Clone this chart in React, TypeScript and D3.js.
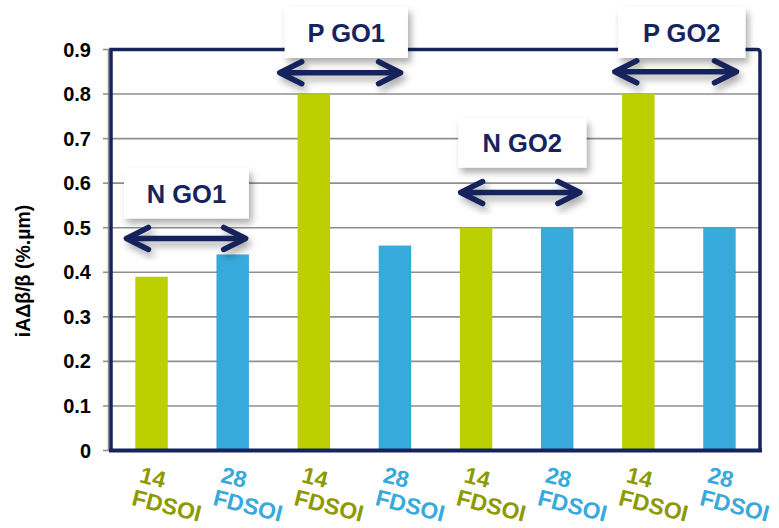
import React from "react";
import * as d3 from "d3";

const categories = ["14 FDSOI a", "28 FDSOI a", "14 FDSOI b", "28 FDSOI b", "14 FDSOI c", "28 FDSOI c", "14 FDSOI d", "28 FDSOI d"];
const nodeLabels = ["14", "28", "14", "28", "14", "28", "14", "28"];
const values = [0.39, 0.44, 0.8, 0.46, 0.5, 0.5, 0.8, 0.5];
const yTicks = [0, 0.1, 0.2, 0.3, 0.4, 0.5, 0.6, 0.7, 0.8, 0.9];
const groupLabels = ["N GO1", "P GO1", "N GO2", "P GO2"];
// box extents in fractional category index, and value units
const boxX0 = [-0.34, 1.64, 3.78, 5.75];
const boxX1 = [1.2, 3.16, 5.36, 7.32];
const boxYTop = [0.633, 0.995, 0.745, 0.995];
const boxYBot = [0.521, 0.881, 0.635, 0.881];
const arrowX0 = [-0.31, 1.58, 3.81, 5.71];
const arrowX1 = [1.16, 3.07, 5.28, 7.21];
const arrowY = [0.476, 0.848, 0.579, 0.85];

const W = 779, H = 528;
const left = 111, right = 760, top = 49.5, bottom = 450.5;
const GREEN = "#bccf00";
const BLUE = "#38a9db";
const GREEN_TXT = "#8c9a00";
const NAVY = "#15245c";
const FONT = "'Liberation Sans', Arial, sans-serif";

export default function App() {
  const x = d3.scaleBand<string>().domain(categories).range([left, right]).paddingInner(0.6).paddingOuter(0.3);
  const y = d3.scaleLinear().domain([0, 0.9]).range([bottom, top]);
  const bw = x.bandwidth();
  const c0 = (x(categories[0]) as number) + bw / 2;
  const fx = (f: number) => c0 + f * x.step();

  return (
    <svg width={W} height={H} style={{ position: "absolute", left: 0, top: 0, background: "#fff" }}>
      <defs>
        <filter id="sh" x="-20%" y="-30%" width="150%" height="180%">
          <feDropShadow dx="3" dy="5" stdDeviation="3.5" floodColor="#000" floodOpacity="0.33" />
        </filter>
      </defs>
      {/* gridlines */}
      {yTicks.map((t) => (
        <g key={t}>
          <line x1={left} x2={right} y1={y(t)} y2={y(t)} stroke="#8f8f8f" strokeWidth={1.6} />
          <line x1={103} x2={left} y1={y(t)} y2={y(t)} stroke="#8f8f8f" strokeWidth={1.6} />
          <text x={91} y={y(t)} dy="0.35em" textAnchor="end" fontFamily={FONT} fontWeight="bold" fontSize={20} fill="#000">
            {t === 0 ? "0" : d3.format(".1f")(t)}
          </text>
        </g>
      ))}
      {/* bars */}
      {categories.map((c, i) => (
        <rect key={c} x={x(c)} y={y(values[i])} width={bw} height={y(0) - y(values[i])} fill={i % 2 === 0 ? GREEN : BLUE} />
      ))}
      {/* frame */}
      <line x1={108.5} x2={108.5} y1={top} y2={bottom} stroke="#8f8f8f" strokeWidth={1.5} />
      <path d={`M${left},${bottom} L${left},${top} L${right - 3},${top} Q${right},${top} ${right},${top + 3} L${right},${bottom}`} fill="none" stroke={NAVY} strokeWidth={3.5} />
      <line x1={left - 2} x2={right + 2} y1={bottom} y2={bottom} stroke={NAVY} strokeWidth={4} />
      {/* annotations */}
      {groupLabels.map((g, i) => (
        <g key={g}>
          <rect x={fx(boxX0[i])} y={y(boxYTop[i])} width={fx(boxX1[i]) - fx(boxX0[i])} height={y(boxYBot[i]) - y(boxYTop[i])} fill="#fff" filter="url(#sh)" />
          <text x={(fx(boxX0[i]) + fx(boxX1[i])) / 2} y={(y(boxYTop[i]) + y(boxYBot[i])) / 2} dy="0.36em" textAnchor="middle" fontFamily={FONT} fontWeight="bold" fontSize={25.5} fill={NAVY}>
            {g}
          </text>
          <g filter="url(#sh)" stroke={NAVY} strokeWidth={5.5} strokeLinecap="round" strokeLinejoin="round" fill="none">
            <line x1={fx(arrowX0[i]) + 2} x2={fx(arrowX1[i]) - 2} y1={y(arrowY[i])} y2={y(arrowY[i])} />
            <path d={`M${fx(arrowX0[i]) + 22},${y(arrowY[i]) - 11} L${fx(arrowX0[i])},${y(arrowY[i])} L${fx(arrowX0[i]) + 22},${y(arrowY[i]) + 11}`} />
            <path d={`M${fx(arrowX1[i]) - 22},${y(arrowY[i]) - 11} L${fx(arrowX1[i])},${y(arrowY[i])} L${fx(arrowX1[i]) - 22},${y(arrowY[i]) + 11}`} />
          </g>
        </g>
      ))}
      {/* x labels */}
      {categories.map((c, i) => (
        <g key={c} transform={`translate(${(x(c) as number) + bw / 2 - 13},${482}) rotate(14)`} fontFamily={FONT} fontWeight="bold" fontSize={23} fill={i % 2 === 0 ? GREEN_TXT : BLUE}>
          <text x={0} y={0}>{nodeLabels[i]}</text>
          <text x={-2} y={24}>FDSOI</text>
        </g>
      ))}
      {/* y title */}
      <text transform={`translate(30,271) rotate(-90)`} textAnchor="middle" fontFamily={FONT} fontWeight="bold" fontSize={19.5} fill="#000">
        iAΔβ/β (%.µm)
      </text>
    </svg>
  );
}
